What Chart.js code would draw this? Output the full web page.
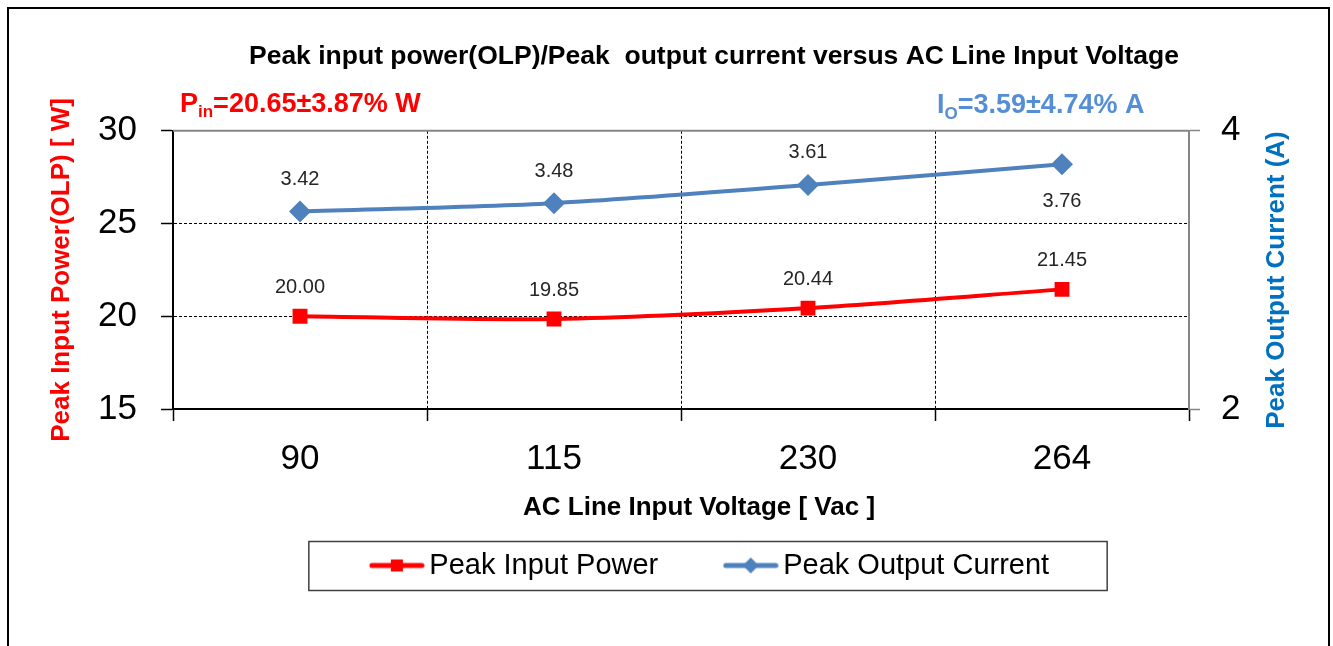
<!DOCTYPE html>
<html>
<head>
<meta charset="utf-8">
<title>Peak input power / Peak output current vs AC Line Input Voltage</title>
<script src="https://cdn.jsdelivr.net/npm/chart.js@4.4.1/dist/chart.umd.min.js"></script>
<style>
    html, body { margin: 0; padding: 0; background: #fff; }
    #wrap { position: relative; width: 1333px; height: 646px; overflow: hidden; }
    #frame { position: absolute; left: 7px; top: 7px; width: 1319px; height: 700px;
             border: 2px solid #000; border-bottom: none; pointer-events: none; }
    canvas { display: block; }
</style>
</head>
<body>
<div id="wrap">
    <canvas id="chartOlp" width="1333" height="646"></canvas>
    <div id="frame"></div>
</div>
<script>
// ===== Data =====
const categories = ['90', '115', '230', '264'];
const peakInputPower = [20.00, 19.85, 20.44, 21.45];
const peakOutputCurrent = [3.42, 3.48, 3.61, 3.76];
const powerTicks = [15, 20, 25, 30];
const currentTicks = [2, 4];

const FONT = "'Liberation Sans', Arial, sans-serif";
const RED = '#FF0000';
const BLUE = '#4F81BD';
const CLEAR = 'rgba(0,0,0,0)';

Chart.defaults.font.family = FONT;

// Excel style legend symbol: line with the marker in the middle
function legendIcon(color, shape) {
    const c = document.createElement('canvas');
    c.width = 56;
    c.height = 20;
    const g = c.getContext('2d');
    g.strokeStyle = color;
    g.fillStyle = color;
    g.lineWidth = 5;
    g.lineCap = 'round';
    g.beginPath();
    g.moveTo(3, 10);
    g.lineTo(53, 10);
    g.stroke();
    if (shape === 'rect') {
        g.fillRect(22, 4, 12, 12);
    } else {
        g.beginPath();
        g.moveTo(28, 2);
        g.lineTo(36, 10);
        g.lineTo(28, 18);
        g.lineTo(20, 10);
        g.closePath();
        g.fill();
    }
    return c;
}
const legendIcons = [legendIcon(RED, 'rect'), legendIcon(BLUE, 'diamond')];

// Value labels next to each point
const pointLabels = {
    id: 'pointLabels',
    afterDatasetsDraw(chart) {
        const ctx = chart.ctx;
        ctx.save();
        ctx.font = `20px ${FONT}`;
        ctx.fillStyle = '#262626';
        ctx.textAlign = 'center';
        ctx.textBaseline = 'middle';
        chart.data.datasets.forEach((ds, di) => {
            chart.getDatasetMeta(di).data.forEach((pt, i) => {
                ctx.fillText(ds.data[i].toFixed(2), pt.x, pt.y + ds.labelOffsets[i]);
            });
        });
        ctx.restore();
    }
};

// Grey top edge of the plot area
const plotFrame = {
    id: 'plotFrame',
    beforeDatasetsDraw(chart) {
        const { ctx, chartArea: a } = chart;
        ctx.save();
        ctx.strokeStyle = '#868686';
        ctx.lineWidth = 2;
        ctx.beginPath();
        ctx.moveTo(a.left, a.top);
        ctx.lineTo(a.right, a.top);
        ctx.stroke();
        ctx.restore();
    }
};

function drawParts(ctx, parts, x, y, color) {
    ctx.fillStyle = color;
    ctx.textBaseline = 'alphabetic';
    ctx.textAlign = 'left';
    parts.forEach(p => {
        ctx.font = `bold ${p.size}px ${FONT}`;
        ctx.fillText(p.text, x, y + (p.dy || 0));
        x += ctx.measureText(p.text).width;
    });
}

// Summary notes, right axis title and legend border
const extraText = {
    id: 'extraText',
    afterDraw(chart) {
        const ctx = chart.ctx;
        ctx.save();
        drawParts(ctx, [
            { text: 'P', size: 27 },
            { text: 'in', size: 17, dy: 5 },
            { text: '=20.65±3.87% W', size: 27 }
        ], 180, 112, RED);
        drawParts(ctx, [
            { text: 'I', size: 27 },
            { text: 'O', size: 17, dy: 6 },
            { text: '=3.59±4.74% A', size: 27 }
        ], 937, 113, '#558ED5');

        // right axis title reads bottom to top like the left one
        const y1 = chart.scales.y1;
        ctx.translate(y1.right - 56, 280);
        ctx.rotate(-Math.PI / 2);
        ctx.font = `bold 26px ${FONT}`;
        ctx.fillStyle = '#0070C0';
        ctx.textAlign = 'center';
        ctx.textBaseline = 'middle';
        ctx.fillText('Peak Output Current (A)', 0, 0);
        ctx.restore();

        const lg = chart.legend;
        const hb = lg.legendHitBoxes;
        if (hb && hb.length) {
            const last = hb[hb.length - 1];
            const left = hb[0].left - 70;
            const right = last.left + last.width + 58;
            ctx.save();
            ctx.strokeStyle = '#404040';
            ctx.lineWidth = 1.5;
            ctx.strokeRect(left, lg.top + 0.5, right - left, lg.bottom - lg.top);
            ctx.restore();
        }
    }
};

const ctx = document.getElementById('chartOlp').getContext('2d');
const chartOlp = new Chart(ctx, {
    type: 'line',
    data: {
        labels: categories,
        datasets: [{
            label: 'Peak Input Power',
            data: peakInputPower,
            yAxisID: 'y',
            borderColor: RED,
            backgroundColor: RED,
            borderWidth: 4,
            pointStyle: 'rect',
            pointRadius: 10.5,
            pointBorderWidth: 0,
            tension: 0.3,
            labelOffsets: [-29, -29, -29, -29]
        }, {
            label: 'Peak Output Current',
            data: peakOutputCurrent,
            yAxisID: 'y1',
            borderColor: BLUE,
            backgroundColor: BLUE,
            borderWidth: 4,
            pointStyle: 'rectRot',
            pointRadius: 11,
            pointBorderWidth: 0,
            tension: 0.3,
            labelOffsets: [-32, -32, -33, 37]
        }]
    },
    options: {
        responsive: false,
        animation: false,
        devicePixelRatio: 1,
        events: [],
        layout: { padding: { left: 95, right: 0, top: 0, bottom: 56 } },
        plugins: {
            title: {
                display: true,
                text: 'Peak input power(OLP)/Peak  output current versus AC Line Input Voltage',
                color: '#000',
                font: { size: 26.5, weight: 'bold' },
                padding: { top: 41, bottom: 58 }
            },
            legend: {
                position: 'bottom',
                labels: {
                    usePointStyle: true,
                    pointStyleWidth: 36,
                    padding: 10,
                    color: '#000',
                    font: { size: 29 },
                    generateLabels: chart => chart.data.datasets.map((ds, i) => ({
                        text: ds.label + (i === 0 ? '        ' : ''),
                        pointStyle: legendIcons[i],
                        fillStyle: ds.borderColor,
                        strokeStyle: ds.borderColor,
                        lineWidth: 0,
                        hidden: false,
                        datasetIndex: i
                    }))
                }
            },
            tooltip: { enabled: false }
        },
        scales: {
            x: {
                offset: true,
                grid: {
                    offset: true,
                    color: c => (c.index === 0 || c.index === categories.length) ? CLEAR : '#000',
                    lineWidth: 1,
                    tickLength: 12,
                    tickColor: '#000',
                    tickWidth: 1.5
                },
                border: { color: '#000', width: 2, dash: [3, 2] },
                ticks: { color: '#000', font: { size: 35 }, padding: 17 },
                title: {
                    display: true,
                    text: '     AC Line Input Voltage [ Vac ]',
                    color: '#000',
                    font: { size: 26, weight: 'bold' },
                    padding: { top: 0, bottom: 18 }
                },
                afterFit: s => { s.height = 132; }
            },
            y: {
                position: 'left',
                min: powerTicks[0],
                max: powerTicks[powerTicks.length - 1],
                afterBuildTicks: s => { s.ticks = powerTicks.map(v => ({ value: v })); },
                grid: {
                    color: c => (c.tick && (c.tick.value === powerTicks[0] || c.tick.value === powerTicks[powerTicks.length - 1])) ? CLEAR : '#000',
                    lineWidth: 1,
                    tickLength: 12,
                    tickColor: '#000',
                    tickWidth: 1.5
                },
                border: { color: '#000', width: 2, dash: [3, 2] },
                ticks: { color: '#000', font: { size: 35 }, padding: 24 },
                title: {
                    display: true,
                    text: 'Peak Input Power(OLP) [ W]',
                    color: RED,
                    font: { size: 26, weight: 'bold' },
                    padding: { top: -49, bottom: 0 }
                },
                afterFit: s => { s.width = 78; }
            },
            y1: {
                position: 'right',
                min: currentTicks[0],
                max: currentTicks[currentTicks.length - 1],
                afterBuildTicks: s => { s.ticks = currentTicks.map(v => ({ value: v })); },
                grid: {
                    drawOnChartArea: false,
                    tickLength: 11,
                    tickColor: '#868686',
                    tickWidth: 1.5
                },
                border: { color: '#868686', width: 2 },
                ticks: { color: '#000', font: { size: 35 }, padding: 21 },
                afterFit: s => { s.width = 144; }
            }
        }
    },
    plugins: [plotFrame, pointLabels, extraText]
});
</script>
</body>
</html>
